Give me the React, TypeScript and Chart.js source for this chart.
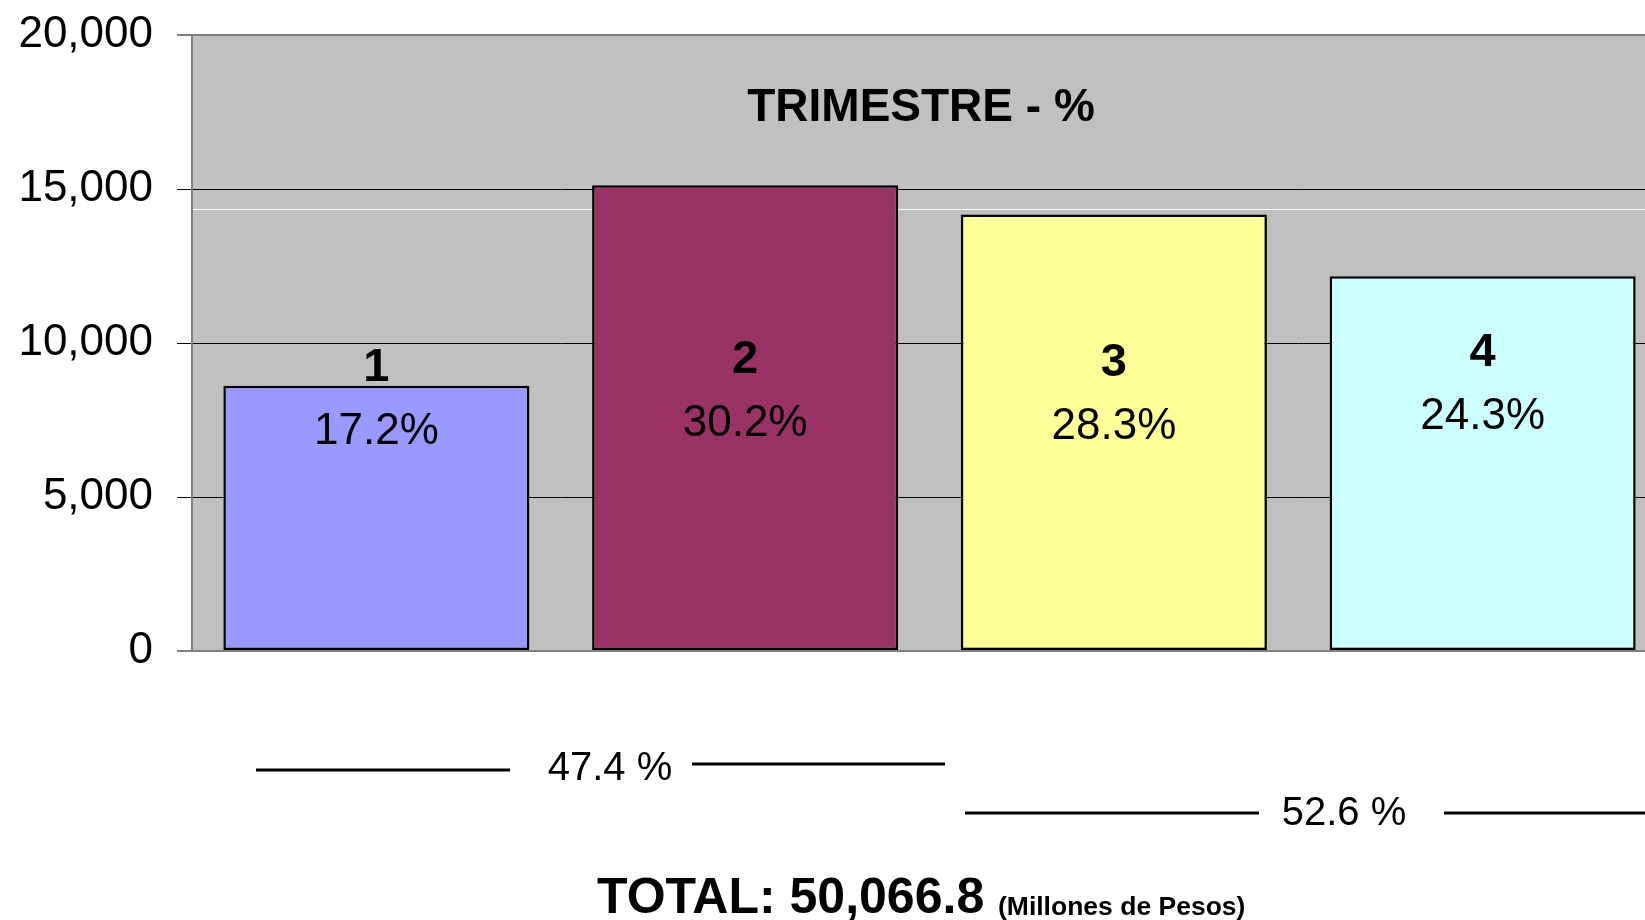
import React, { useEffect, useRef } from "react";
import { Chart, registerables } from "chart.js";

Chart.register(...registerables);

const CATEGORIES = ["1", "2", "3", "4"];
const VALUES = [8611.5, 15120.2, 14168.9, 12166.2];
const PERCENT_LABELS = ["17.2%", "30.2%", "28.3%", "24.3%"];
const NUMBER_LABEL_AT = [9200, 9450, 9350, 9680];
const PERCENT_LABEL_AT = [7120, 7380, 7290, 7590];
const BAR_COLORS = ["#9999FF", "#993366", "#FFFF99", "#CCFFFF"];
const Y_MIN = 0;
const Y_MAX = 20000;
const Y_STEP = 5000;
const REFERENCE_LINE_VALUE = 14350;
const TITLE = "TRIMESTRE - %";
const GROUP_LABELS = ["47.4 %", "52.6 %"];
const TOTAL_TEXT = "TOTAL: 50,066.8";
const UNIT_TEXT = "(Millones de Pesos)";

const FONT = "'Liberation Sans', Arial, sans-serif";
const CANVAS_W = 1700;
const CANVAS_H = 920;

const decorPlugin = {
  id: "decor",
  beforeDraw(chart: any) {
    const { ctx, chartArea } = chart;
    ctx.save();
    ctx.fillStyle = "#C0C0C0";
    ctx.fillRect(chartArea.left, chartArea.top, chartArea.right - chartArea.left, chartArea.bottom - chartArea.top);
    ctx.restore();
  },
  beforeDatasetsDraw(chart: any) {
    const { ctx, chartArea, scales } = chart;
    const y = Math.round(scales.y.getPixelForValue(REFERENCE_LINE_VALUE)) + 0.5;
    ctx.save();
    ctx.strokeStyle = "#FFFFFF";
    ctx.lineWidth = 1;
    ctx.beginPath();
    ctx.moveTo(chartArea.left + 1, y);
    ctx.lineTo(chartArea.right, y);
    ctx.stroke();
    ctx.restore();
  },
  afterDatasetsDraw(chart: any) {
    const { ctx, scales } = chart;
    const meta = chart.getDatasetMeta(0);
    ctx.save();
    ctx.fillStyle = "#000";
    ctx.textAlign = "center";
    ctx.textBaseline = "middle";
    meta.data.forEach((bar: any, i: number) => {
      ctx.font = `bold 47px ${FONT}`;
      ctx.fillText(CATEGORIES[i], bar.x, scales.y.getPixelForValue(NUMBER_LABEL_AT[i]));
      ctx.font = `44px ${FONT}`;
      ctx.fillText(PERCENT_LABELS[i], bar.x, scales.y.getPixelForValue(PERCENT_LABEL_AT[i]));
    });
    ctx.font = `bold 46px ${FONT}`;
    ctx.textBaseline = "alphabetic";
    ctx.fillText(TITLE, 921, 121);
    ctx.restore();
  },
  afterDraw(chart: any) {
    const { ctx } = chart;
    ctx.save();
    ctx.strokeStyle = "#000";
    ctx.lineWidth = 3;
    const seg = (x1: number, x2: number, y: number) => {
      ctx.beginPath();
      ctx.moveTo(x1, y);
      ctx.lineTo(x2, y);
      ctx.stroke();
    };
    seg(256, 510, 770);
    seg(692, 945, 764);
    seg(965, 1259, 813);
    seg(1444, CANVAS_W, 813);
    ctx.fillStyle = "#000";
    ctx.textAlign = "center";
    ctx.textBaseline = "middle";
    ctx.font = `40px ${FONT}`;
    ctx.fillText(GROUP_LABELS[0], 610, 769);
    ctx.fillText(GROUP_LABELS[1], 1344, 814);
    ctx.textAlign = "left";
    ctx.textBaseline = "alphabetic";
    ctx.font = `bold 50px ${FONT}`;
    ctx.fillText(TOTAL_TEXT, 597, 913);
    ctx.font = `bold 26.5px ${FONT}`;
    ctx.fillText(UNIT_TEXT, 998, 915);
    ctx.restore();
  },
};

export default function App() {
  const ref = useRef<HTMLCanvasElement | null>(null);

  useEffect(() => {
    if (!ref.current) return;
    const chart = new Chart(ref.current, {
      type: "bar",
      data: {
        labels: CATEGORIES,
        datasets: [
          {
            data: VALUES,
            backgroundColor: BAR_COLORS,
            borderColor: "#000000",
            borderWidth: 2.5,
            borderSkipped: false,
            barPercentage: 0.83,
            categoryPercentage: 1,
          },
        ],
      },
      options: {
        responsive: false,
        animation: false,
        layout: { padding: { left: 0, top: 34, right: 33, bottom: 269 } },
        plugins: {
          legend: { display: false },
          tooltip: { enabled: false },
          title: { display: false },
        },
        scales: {
          x: { display: false },
          y: {
            min: Y_MIN,
            max: Y_MAX,
            afterFit: (scale: any) => {
              scale.width = 192;
            },
            ticks: {
              stepSize: Y_STEP,
              padding: 24,
              color: "#000",
              font: { family: FONT, size: 44, lineHeight: 0.5 },
              callback: (v: any) => Number(v).toLocaleString("en-US"),
            },
            grid: {
              drawOnChartArea: true,
              tickLength: 15,
              color: (c: any) => (c.tick && (c.tick.value === Y_MIN || c.tick.value === Y_MAX) ? "#808080" : "#000000"),
              tickColor: (c: any) => (c.tick && (c.tick.value === Y_MIN || c.tick.value === Y_MAX) ? "#808080" : "#000000"),
              lineWidth: (c: any) => (c.tick && (c.tick.value === Y_MIN || c.tick.value === Y_MAX) ? 2 : 1),
            },
            border: { display: true, color: "#808080", width: 2 },
          },
        },
      },
      plugins: [decorPlugin],
    });
    return () => chart.destroy();
  }, []);

  return (
    <div style={{ position: "fixed", left: 0, top: 0, width: "100vw", height: "100vh", overflow: "hidden", background: "#fff" }}>
      <canvas ref={ref} width={CANVAS_W} height={CANVAS_H} style={{ display: "block" }} />
    </div>
  );
}
